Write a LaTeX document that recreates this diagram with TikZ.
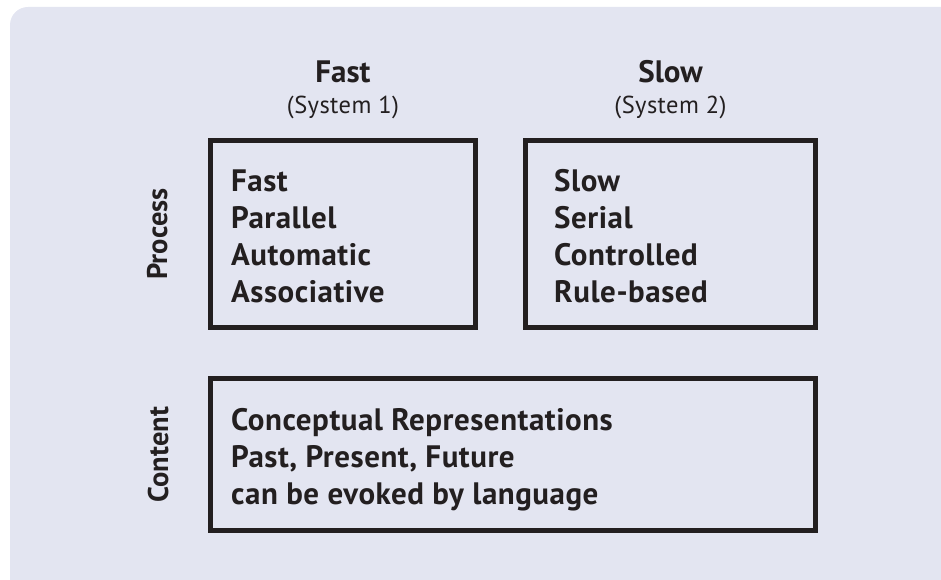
\documentclass[tikz,border=0pt]{standalone}
\usepackage{fontspec}
\setmainfont{PT Sans}
\newfontfamily\itemfont[LetterSpace=1.7]{PT Sans}
\definecolor{bgc}{RGB}{227,229,241}
\definecolor{ink}{RGB}{35,31,32}
\begin{document}
\begin{tikzpicture}[x=1pt,y=1pt,
  panel/.style={draw=ink, line width=5pt, rectangle, inner sep=0pt},
  item/.style={anchor=base west, inner sep=0pt, text=ink, font=\itemfont\fontsize{31}{37}\selectfont\bfseries},
  head/.style={anchor=base, inner sep=0pt, text=ink, font=\fontsize{31}{37}\selectfont\bfseries},
  sub/.style={anchor=base, inner sep=0pt, text=ink, font=\itemfont\fontsize{24.5}{28}\selectfont},
  side/.style={anchor=base, rotate=90, inner sep=0pt, text=ink, font=\fontsize{28.5}{34}\selectfont\bfseries}]
\useasboundingbox (0,0) rectangle (941,580);
\fill[bgc, rounded corners=18pt] (10,-20) rectangle (960,573);
% boxes
\node[panel, minimum width=265pt, minimum height=187pt] (fastbox) at (343,346) {};
\node[panel, minimum width=290pt, minimum height=187pt] (slowbox) at (670.5,346) {};
\node[panel, minimum width=605pt, minimum height=152pt] (contentbox) at (513,125.5) {};
% headers
\node[head] (hfast) at (343,497) {Fast};
\node[sub] (sfast) at (343,466) {(System 1)};
\node[head] (hslow) at (670.5,497) {Slow};
\node[sub] (sslow) at (670.5,466) {(System 2)};
% side labels
\node[side] (proc) at (167,346) {Process};
\node[side] (cont) at (168,125.5) {Content};
% fast items
\node[item] (f1) at (231,388) {Fast};
\node[item] (f2) at (231,351) {Parallel};
\node[item] (f3) at (231,314) {Automatic};
\node[item] (f4) at (231,277) {Associative};
% slow items
\node[item] (s1) at (554,388) {Slow};
\node[item] (s2) at (554,351) {Serial};
\node[item] (s3) at (554,314) {Controlled};
\node[item] (s4) at (554,277) {Rule-based};
% content items
\node[item] (c1) at (231,149) {Conceptual Representations};
\node[item] (c2) at (231,112) {Past, Present, Future};
\node[item] (c3) at (231,75) {can be evoked by language};
\end{tikzpicture}
\end{document}
